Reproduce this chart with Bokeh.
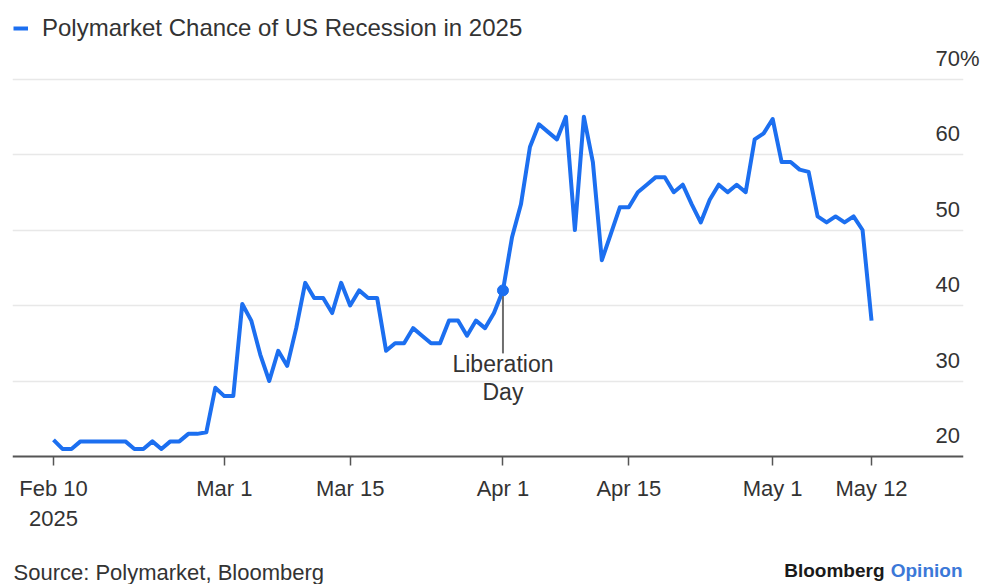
import pandas as pd
from bokeh.plotting import figure
from bokeh.models import (Range1d, FixedTicker, Label, ColumnDataSource,
                          Legend, LegendItem, Grid, LinearAxis)
from bokeh.embed import file_html
from bokeh.resources import INLINE

# ---------------- data ----------------
start_date = "2025-02-10"
end_date = "2025-05-12"
feb_values = [22.2, 21.0, 21.0, 22.0, 22.0, 22.0, 22.0, 22.0, 22.0, 21.0,
              21.0, 22.0, 21.0, 22.0, 22.0, 23.0, 23.0, 23.2, 29.1]
mar_values = [28.0, 28.0, 40.2, 38.0, 33.5, 30.0, 34.0, 32.0, 37.0, 43.0,
              41.0, 41.0, 39.0, 43.0, 40.0, 42.0, 41.0, 41.0, 34.0, 35.0,
              35.0, 37.0, 36.0, 35.0, 35.0, 38.0, 38.0, 36.0, 38.0, 37.0, 39.0]
apr_values = [42.0, 49.0, 53.4, 61.0, 64.0, 63.0, 62.0, 65.0, 50.0, 65.0,
              59.0, 46.0, 49.5, 53.0, 53.0, 55.0, 56.0, 57.0, 57.0, 55.0,
              56.0, 53.4, 51.0, 54.0, 56.0, 55.0, 56.0, 55.0, 62.0, 62.8]
may_values = [64.7, 59.0, 59.0, 58.0, 57.7, 51.8, 51.0, 51.8, 51.0, 51.8, 50.0, 38.0]

series_label = "Polymarket Chance of US Recession in 2025"
x_tick_dates = ["2025-02-10", "2025-03-01", "2025-03-15", "2025-04-01",
                "2025-04-15", "2025-05-01", "2025-05-12"]
x_tick_labels = ["Feb 10\n2025", "Mar 1", "Mar 15", "Apr 1", "Apr 15", "May 1", "May 12"]
y_ticks = [20, 30, 40, 50, 60, 70]
y_tick_labels = ["20", "30", "40", "50", "60", "70%"]
y_baseline = 20
event_date = "2025-04-01"
event_text = "Liberation\nDay"
source_text = "Source: Polymarket, Bloomberg"
brand_text = "Bloomberg"
brand_suffix = "Opinion"

# ---------------- styling ----------------
FONT = "Liberation Sans"
BLUE = "#1c6ff0"
TEXT = "#333333"
W, H = 987, 584
B_LEFT, B_RIGHT = 12, 24
AXIS_Y_PX = 456          # pixel row of the x axis line
PX_PER_UNIT = 7.55
Y0 = y_baseline - (H - AXIS_Y_PX) / PX_PER_UNIT
Y1 = y_baseline + AXIS_Y_PX / PX_PER_UNIT
LABEL_LIFT = 21 / PX_PER_UNIT   # tick labels sit above their grid lines


def ms(d):
    return pd.Timestamp(d).value / 1e6


DAY = 86400000.0
dates = pd.date_range(start_date, end_date, freq="D")
values = feb_values + mar_values + apr_values + may_values
src = ColumnDataSource(dict(date=dates, value=values))

p = figure(width=W, height=H, output_backend="svg", toolbar_location=None,
           x_axis_type="datetime", y_axis_location=None, title=None,
           min_border_left=B_LEFT, min_border_right=B_RIGHT,
           min_border_top=0, min_border_bottom=0,
           x_range=Range1d(ms(start_date) - 4.56 * DAY, ms(end_date) + 10.23 * DAY),
           y_range=Range1d(Y0, Y1))
p.outline_line_color = None
p.background_fill_color = "white"
p.border_fill_color = "white"
p.xgrid.visible = False
p.ygrid.visible = False

p.add_layout(Grid(dimension=1, ticker=FixedTicker(ticks=y_ticks[1:]),
                  grid_line_color="#e8e8e8", grid_line_width=1.5))

# x axis, drawn at the 20 line
ax = p.xaxis[0]
ax.fixed_location = y_baseline
tick_ms = [ms(d) for d in x_tick_dates]
ax.ticker = FixedTicker(ticks=tick_ms)
ax.major_label_overrides = {t: l for t, l in zip(tick_ms, x_tick_labels)}
ax.axis_line_color = "#555555"
ax.axis_line_width = 2
ax.major_tick_line_color = "#555555"
ax.major_tick_line_width = 1.5
ax.major_tick_out = 9
ax.major_tick_in = 0
ax.minor_tick_line_color = None
ax.major_label_text_font = FONT
ax.major_label_text_font_size = "22px"
ax.major_label_text_color = TEXT
ax.major_label_standoff = 10

# y axis labels on the right, drawn over the plot just above each grid line
p.extra_y_ranges = {"labels": Range1d(Y0 - LABEL_LIFT, Y1 - LABEL_LIFT)}
yax = LinearAxis(y_range_name="labels", ticker=FixedTicker(ticks=y_ticks),
                 bounds=(y_ticks[0], y_ticks[-1]),
                 major_label_overrides={t: l for t, l in zip(y_ticks, y_tick_labels)},
                 major_tick_out=0, major_tick_in=0, minor_tick_out=0, minor_tick_in=0,
                 major_label_standoff=-28, major_label_text_font=FONT,
                 major_label_text_font_size="22px", major_label_text_color=TEXT)
yax.axis_line_color = None
yax.major_tick_line_color = None
yax.minor_tick_line_color = None
p.add_layout(yax, "right")

# line
r = p.line(x="date", y="value", source=src, line_color=BLUE, line_width=4,
           line_join="round")

legend = Legend(items=[LegendItem(label=series_label, renderers=[r])],
                location=(1, H - 42), glyph_width=15, glyph_height=20, label_height=20,
                label_text_font=FONT, label_text_font_size="24px",
                label_text_color=TEXT, padding=0, margin=0, spacing=0,
                label_standoff=14, border_line_color=None,
                background_fill_color=None)
p.add_layout(legend)

# event annotation
ev_x = ms(event_date)
ev_val = values[list(dates).index(pd.Timestamp(event_date))]
drop = 63 / PX_PER_UNIT
p.segment(x0=[ev_x], y0=[ev_val], x1=[ev_x], y1=[ev_val - drop],
          line_color="#6e6e6e", line_width=2)
p.scatter(x=[ev_x], y=[ev_val], size=11, color=BLUE)
p.add_layout(Label(x=ev_x, y=ev_val - drop, y_offset=2, text=event_text,
                   text_align="center", text_baseline="top", text_font=FONT,
                   text_font_size="23px", text_color=TEXT, text_line_height=1.05))

# footer
p.add_layout(Label(x=1, y=12, x_units="screen", y_units="screen", text=source_text,
                   text_font=FONT, text_font_size="22px", text_color=TEXT,
                   text_baseline="alphabetic"))
p.add_layout(Label(x=872, y=14, x_units="screen", y_units="screen", text=brand_text,
                   text_font=FONT, text_font_size="19px", text_font_style="bold",
                   text_color="#1a1a1a", text_align="right", text_baseline="alphabetic"))
p.add_layout(Label(x=950, y=14, x_units="screen", y_units="screen", text=brand_suffix,
                   text_font=FONT, text_font_size="19px", text_font_style="bold",
                   text_color="#3b78d8", text_align="right", text_baseline="alphabetic"))

open("out.html", "w").write(file_html(p, INLINE))
